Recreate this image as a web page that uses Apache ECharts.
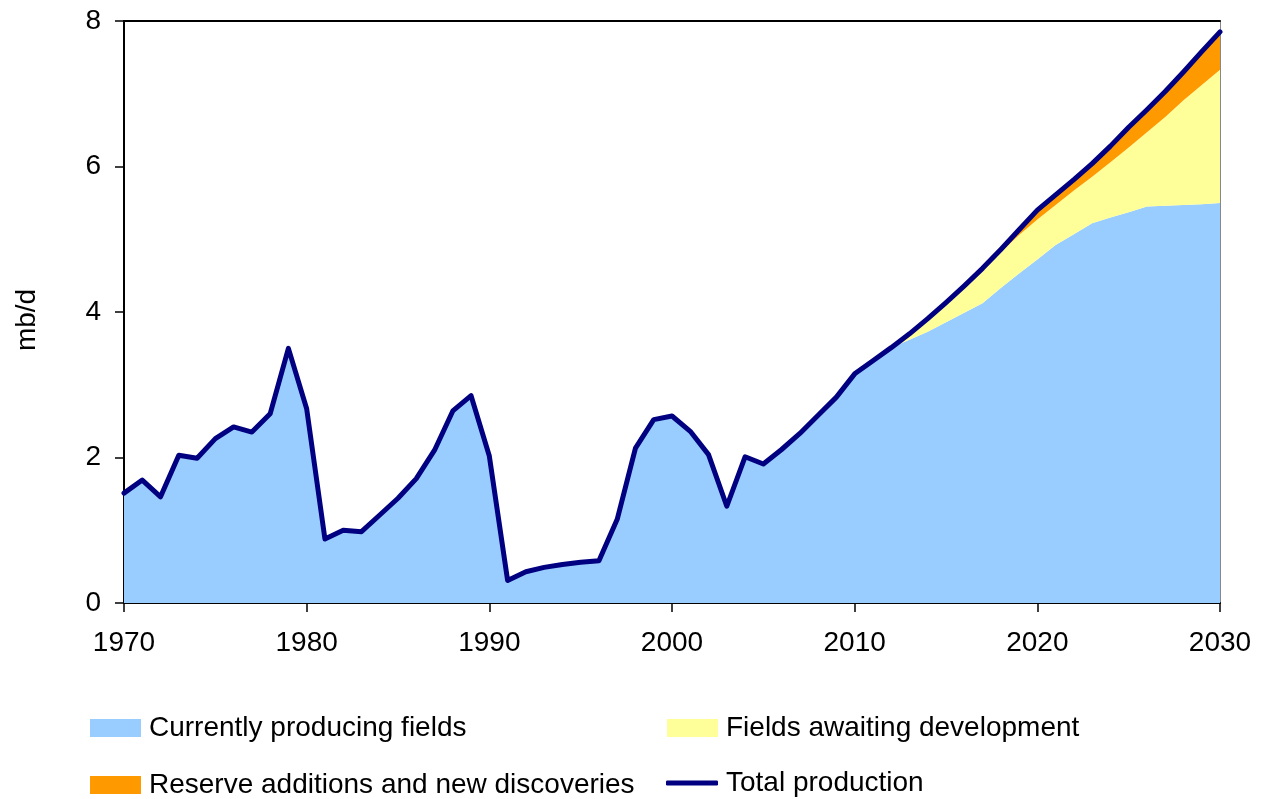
<!DOCTYPE html>
<html>
<head>
<meta charset="utf-8">
<script src="https://cdn.jsdelivr.net/npm/echarts@6/dist/echarts.min.js"></script>
<style>
html,body{margin:0;padding:0;background:#fff;}
#chart{width:1262px;height:799px;}
</style>
</head>
<body>
<div id="chart"></div>
<script>
const years = [1970,1971,1972,1973,1974,1975,1976,1977,1978,1979,1980,1981,1982,1983,1984,1985,1986,1987,1988,1989,1990,1991,1992,1993,1994,1995,1996,1997,1998,1999,2000,2001,2002,2003,2004,2005,2006,2007,2008,2009,2010,2011,2012,2013,2014,2015,2016,2017,2018,2019,2020,2021,2022,2023,2024,2025,2026,2027,2028,2029,2030];

const currentlyProducing = [1.51,1.69,1.46,2.03,1.99,2.26,2.42,2.35,2.60,3.50,2.67,0.88,1.00,0.98,1.21,1.44,1.71,2.10,2.64,2.85,2.02,0.31,0.43,0.49,0.53,0.56,0.58,1.15,2.13,2.52,2.57,2.36,2.04,1.33,2.01,1.91,2.11,2.33,2.58,2.83,3.15,3.33,3.51,3.62,3.73,3.86,3.99,4.12,4.33,4.53,4.72,4.92,5.07,5.22,5.30,5.37,5.45,5.46,5.47,5.48,5.50];

const awaitingDevelopment = [null,null,null,null,null,null,null,null,null,null,null,null,null,null,null,null,null,null,null,null,null,null,null,null,null,null,null,null,null,null,null,null,null,null,null,null,null,null,null,null,null,null,0,0.08,0.16,0.25,0.35,0.45,0.49,0.53,0.55,0.55,0.60,0.64,0.76,0.89,1.02,1.22,1.44,1.64,1.83];

const reserveAdditions = [null,null,null,null,null,null,null,null,null,null,null,null,null,null,null,null,null,null,null,null,null,null,null,null,null,null,null,null,null,null,null,null,null,null,null,null,null,null,null,null,null,null,0,0,0.02,0.02,0.02,0.03,0.04,0.07,0.13,0.14,0.15,0.18,0.22,0.28,0.31,0.35,0.39,0.46,0.52];

const totalProduction = [1.51,1.69,1.46,2.03,1.99,2.26,2.42,2.35,2.60,3.50,2.67,0.88,1.00,0.98,1.21,1.44,1.71,2.10,2.64,2.85,2.02,0.31,0.43,0.49,0.53,0.56,0.58,1.15,2.13,2.52,2.57,2.36,2.04,1.33,2.01,1.91,2.11,2.33,2.58,2.83,3.15,3.33,3.51,3.70,3.91,4.13,4.36,4.60,4.86,5.13,5.40,5.61,5.82,6.04,6.28,6.54,6.78,7.03,7.30,7.58,7.85];

const seriesNames = ['Currently producing fields','Fields awaiting development','Reserve additions and new discoveries','Total production'];
const yTicks = {min:0, max:8, interval:2};
const yAxisTitle = 'mb/d';

const FONT = "'Liberation Sans', Arial, sans-serif";
const chart = echarts.init(document.getElementById('chart'), null, {renderer:'canvas'});

const legendBase = {
  orient:'horizontal', padding:0, itemWidth:51, itemHeight:18, itemGap:0,
  textStyle:{fontFamily:FONT, fontSize:28, color:'#000', padding:[0,0,0,3]},
  selectedMode:false
};

chart.setOption({
  animation:false,
  backgroundColor:'#fff',
  grid:{left:124, right:42, top:21, bottom:196, containLabel:false},
  graphic:[{
    type:'text', x:27, y:320, rotation:Math.PI/2,
    style:{text:yAxisTitle, fontFamily:FONT, fontSize:28, fill:'#000', align:'center', verticalAlign:'middle'}
  }],
  legend:[
    Object.assign({}, legendBase, {data:[{name:seriesNames[0], icon:'rect'}], left:90, top:714}),
    Object.assign({}, legendBase, {data:[{name:seriesNames[1], icon:'rect'}], left:667, top:714}),
    Object.assign({}, legendBase, {data:[{name:seriesNames[2], icon:'rect'}], left:90, top:771}),
    Object.assign({}, legendBase, {data:[{name:seriesNames[3], icon:'roundRect'}], left:666, top:769, itemWidth:52, itemHeight:5})
  ],
  xAxis:[{
    type:'category', data:years.map(String), boundaryGap:false,
    axisLine:{lineStyle:{color:'#000', width:2}},
    axisTick:{show:true, interval:9, length:9, inside:false, lineStyle:{color:'#000', width:1.5}},
    axisLabel:{interval:9, margin:26, fontFamily:FONT, fontSize:28, color:'#000'},
    splitLine:{show:false}
  },{
    type:'category', data:years.map(String), boundaryGap:false, position:'top',
    axisLine:{show:true, onZero:false, lineStyle:{color:'#000', width:2}},
    axisTick:{show:false}, axisLabel:{show:false}, splitLine:{show:false}
  }],
  yAxis:[{
    type:'value', min:yTicks.min, max:yTicks.max, interval:yTicks.interval,
    axisLine:{show:true, lineStyle:{color:'#000', width:2}},
    axisTick:{show:true, length:9, inside:false, lineStyle:{color:'#000', width:1.5}},
    axisLabel:{margin:23, fontFamily:FONT, fontSize:28, color:'#000'},
    splitLine:{show:false}
  },{
    type:'value', min:yTicks.min, max:yTicks.max, interval:yTicks.interval, position:'right',
    axisLine:{show:true, onZero:false, lineStyle:{color:'#888', width:1}},
    axisTick:{show:false}, axisLabel:{show:false}, splitLine:{show:false}
  }],
  series:[
    {name:seriesNames[0], type:'line', stack:'fields', data:currentlyProducing, symbol:'none',
     lineStyle:{width:0}, areaStyle:{color:'#99CCFF', opacity:1}, itemStyle:{color:'#99CCFF'}, z:1},
    {name:seriesNames[1], type:'line', stack:'fields', data:awaitingDevelopment, symbol:'none',
     lineStyle:{width:0}, areaStyle:{color:'#FFFF99', opacity:1}, itemStyle:{color:'#FFFF99'}, z:1},
    {name:seriesNames[2], type:'line', stack:'fields', data:reserveAdditions, symbol:'none',
     lineStyle:{width:0}, areaStyle:{color:'#FF9900', opacity:1}, itemStyle:{color:'#FF9900'}, z:1},
    {name:seriesNames[3], type:'line', data:totalProduction, symbol:'none',
     lineStyle:{width:5, color:'#000080', join:'round', cap:'round'}, itemStyle:{color:'#000080'}, z:5}
  ]
});
</script>
</body>
</html>
